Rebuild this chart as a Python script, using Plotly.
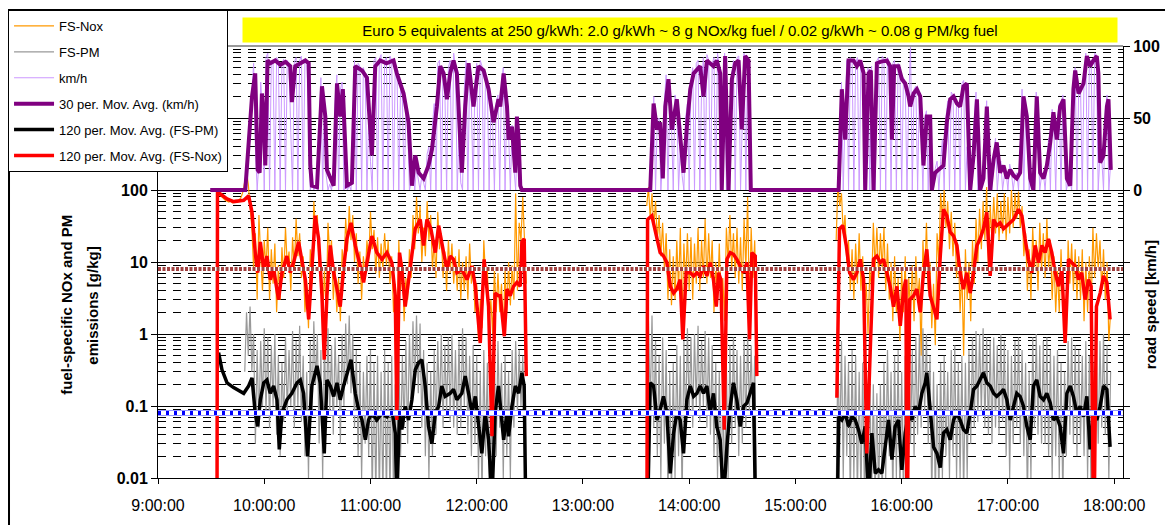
import pandas as pd
import plotly.graph_objects as go

# all times are minutes after 9:00:00
day_start = pd.Timestamp("2010-06-01 09:00:00")

# 30 per. moving average of road speed [km/h]
speed_ma_t = [29.5, 49.3, 53.1, 54.9, 56.3, 57.4, 58.7, 59.7, 60.6, 61.9, 63.4, 66.2, 69.1, 72.0, 74.7,
              75.6, 77.5, 80.0, 83.2, 85.1, 86.0, 86.9, 89.8, 92.6, 94.5, 95.4, 99.2, 101.1, 102.9, 104.4,
              106.7, 109.5, 111.4, 115.2, 118.0, 120.8, 122.7, 125.5, 129.0, 133.0, 134.9, 138.7, 141.5, 143.4, 145.3,
              147.2, 150.0, 152.8, 154.7, 157.5, 159.4, 161.3, 163.2, 165.0, 166.9, 168.8, 171.6, 173.5, 175.4, 178.2,
              181.0, 183.9, 186.7, 189.5, 192.3, 193.3, 195.2, 197.1, 198.0, 199.9, 201.8, 202.7, 203.7, 204.6, 205.5,
              278.0, 279.9, 281.8, 283.6, 285.1, 286.5, 288.3, 290.2, 293.0, 294.9, 296.8, 298.7, 300.6, 302.5, 306.2,
              308.1, 310.0, 313.7, 315.6, 317.5, 318.4, 320.3, 322.2, 324.1, 326.0, 327.9, 329.7, 331.6, 333.5, 334.8,
              384.4, 386.2, 388.1, 390.0, 392.8, 394.7, 396.6, 398.5, 399.4, 401.3, 402.6, 404.1, 406.0, 407.9, 411.6,
              413.5, 414.5, 415.8, 418.2, 420.1, 422.0, 423.9, 424.8, 426.7, 428.6, 430.5, 432.3, 434.2, 436.1, 437.0,
              438.9, 440.8, 443.6, 445.5, 447.4, 449.3, 451.2, 453.0, 454.9, 456.8, 458.7, 460.6, 462.5, 464.3, 466.2,
              468.1, 470.0, 471.9, 473.7, 475.6, 477.5, 479.4, 481.3, 483.2, 485.0, 486.9, 488.8, 490.7, 492.6, 494.4,
              496.3, 498.2, 500.1, 502.0, 503.9, 505.7, 507.6, 509.5, 511.4, 513.3, 515.2, 517.0, 518.0, 519.9, 522.7,
              524.6, 526.4, 528.3, 530.2, 531.1, 532.1, 534.0, 535.9, 536.8, 538.1]
speed_ma = [0, 0, 65, 81, 14, 12, 67, 51, 17, 90, 88, 90, 87, 89, 86,
            61, 86, 88, 90, 88, 17, 3, 2, 72, 51, 14, 3, 74, 51, 70,
            3, 5, 86, 83, 78, 24, 86, 90, 88, 90, 81, 67, 47, 3, 24,
            12, 8, 17, 28, 58, 86, 81, 63, 81, 90, 81, 12, 58, 88, 58,
            86, 83, 70, 47, 63, 58, 81, 58, 35, 44, 12, 51, 35, 3, 0,
            0, 60, 42, 47, 8, 58, 77, 42, 63, 35, 12, 44, 70, 81, 86,
            65, 90, 86, 90, 81, 0, 93, 0, 77, 88, 90, 42, 93, 90, 0,
            0, 70, 35, 90, 90, 86, 90, 81, 0, 81, 83, 0, 88, 89, 90,
            86, 35, 86, 86, 77, 74, 65, 58, 67, 70, 65, 17, 51, 51, 0,
            12, 14, 17, 47, 63, 65, 60, 58, 72, 74, 0, 24, 63, 0, 8,
            58, 0, 21, 33, 12, 17, 8, 14, 10, 8, 12, 65, 51, 8, 0,
            65, 12, 8, 17, 33, 54, 35, 58, 63, 8, 3, 70, 83, 67, 74,
            93, 86, 90, 93, 81, 19, 24, 58, 63, 14]

# raw road speed [km/h], one reading per minute in each driving block
speed_raw_a_start = 49
speed_raw_a = [0, 5, 20, 45, 70, 88, 30, 0, 20, 75,
               55, 0, 92, 95, 0, 90, 88, 0, 92, 90,
               0, 88, 91, 0, 90, 87, 40, 0, 89, 92,
               0, 90, 93, 0, 91, 90, 60, 0, 5, 0,
               3, 0, 40, 78, 0, 60, 10, 0, 4, 0,
               10, 60, 80, 0, 70, 75, 0, 5, 0, 3,
               0, 45, 90, 0, 88, 86, 0, 85, 80, 0,
               50, 20, 0, 90, 92, 0, 91, 94, 0, 90,
               92, 0, 93, 90, 0, 88, 80, 0, 72, 65,
               0, 55, 45, 0, 5, 20, 0, 15, 8, 0,
               10, 5, 0, 25, 30, 0, 45, 60, 0, 88,
               90, 0, 85, 70, 0, 85, 90, 0, 95, 85,
               0, 40, 5, 0, 70, 90, 0, 80, 60, 0,
               75, 88, 0, 90, 86, 0, 80, 72, 0, 55,
               45, 0, 60, 66, 0, 75, 85, 0, 60, 40,
               0, 45, 15, 0, 38, 5, 0]
speed_raw_b_start = 278
speed_raw_b = [0, 40, 65, 0, 48, 50, 0, 20, 62, 80,
               0, 60, 45, 0, 66, 60, 0, 30, 10, 0,
               50, 60, 0, 75, 85, 0, 88, 90, 0, 70,
               92, 0, 94, 90, 0, 88, 92, 0, 95, 85,
               0, 60, 95, 0, 10, 0, 80, 90, 0, 92,
               93, 0, 60, 95, 0, 92, 88, 0]
speed_raw_c_start = 384
speed_raw_c = [0, 30, 75, 0, 50, 90, 0, 92, 90, 0,
               88, 92, 0, 90, 85, 0, 40, 85, 0, 86,
               10, 0, 90, 92, 0, 93, 91, 0, 92, 88,
               0, 88, 90, 0, 88, 85, 0, 78, 75, 0,
               62, 100, 0, 70, 72, 0, 68, 40, 0, 50,
               55, 0, 52, 5, 0, 15, 20, 0, 20, 35,
               0, 50, 62, 0, 68, 66, 0, 62, 60, 0,
               74, 76, 0, 30, 5, 0, 30, 50, 68, 0,
               5, 0, 12, 40, 62, 0, 5, 0, 25, 36,
               0, 15, 20, 0, 10, 12, 0, 18, 12, 0,
               10, 12, 0, 30, 70, 0, 55, 40, 0, 10,
               5, 0, 68, 30, 0, 10, 12, 0, 20, 36,
               0, 56, 40, 0, 50, 60, 0, 66, 30, 0,
               5, 8, 0, 72, 85, 0, 70, 72, 0, 78,
               95, 0, 88, 90, 0, 95, 94, 0, 25, 22,
               0, 55, 66, 0, 18]

# fuel-specific NOx, raw [g/kg]
nox_raw_a_start = 34
nox_raw_a = [90, 85, 80, 75, 72, 70, 68, 70, 66, 70,
             72, 68, 75, 80, 95, 140, 180, 120, 60, 30,
             8, 25, 3, 45, 12, 4, 20, 8, 30, 3,
             15, 5, 18, 2, 9, 3, 16, 6, 30, 9,
             14, 4, 22, 8, 40, 12, 25, 6, 12, 2,
             5, 1.2, 15, 5, 70, 25, 45, 8, 6, 1.5,
             8, 2, 35, 12, 20, 3, 8, 2, 6, 1.5,
             15, 8, 40, 14, 60, 20, 45, 10, 25, 5,
             14, 3, 12, 6, 20, 10, 50, 15, 28, 7,
             22, 6, 18, 8, 25, 9, 20, 5, 12, 2,
             5, 0.8, 20, 4, 10, 1.5, 6, 3, 15, 6,
             45, 15, 80, 25, 60, 10, 30, 12, 70, 20,
             45, 8, 20, 6, 50, 15, 25, 6, 14, 4,
             20, 7, 18, 5, 12, 4, 15, 3, 10, 4,
             12, 3, 18, 5, 9, 2, 5, 0.8, 3, 1.2,
             20, 6, 8, 1.5, 3, 1, 8, 2, 7, 2,
             5, 1, 8, 2, 10, 2.5, 9, 3, 90, 4,
             35, 20, 80, 15, 5]
nox_raw_b_start = 276
nox_raw_b = [60, 110, 40, 90, 30, 70, 20, 45, 12, 35,
             8, 25, 3, 15, 2.5, 12, 3, 20, 4, 30,
             1.5, 18, 5, 25, 4, 22, 3, 18, 5, 30,
             4, 20, 6, 40, 5, 25, 6, 20, 2, 10,
             3, 18, 2.5, 6, 1.5, 30, 10, 45, 8, 25,
             6, 30, 5, 22, 4, 40, 8, 80, 2, 30,
             6, 20, 1]
nox_raw_c_start = 383
nox_raw_c = [20, 120, 60, 90, 25, 45, 10, 20, 4, 15,
             3, 18, 5, 25, 4, 12, 2, 5, 1, 8,
             4, 35, 8, 30, 6, 25, 8, 30, 4, 18,
             3, 10, 1.5, 12, 2, 6, 0.8, 8, 2, 12,
             0.6, 6, 2, 9, 1.5, 12, 3, 6, 0.5, 20,
             6, 35, 4, 10, 1.2, 5, 0.7, 25, 10, 90,
             40, 100, 30, 70, 15, 50, 12, 35, 6, 15,
             2, 8, 0.5, 15, 3, 10, 1.5, 20, 5, 40,
             10, 55, 15, 70, 20, 110, 8, 60, 20, 80,
             25, 90, 20, 70, 25, 90, 20, 80, 25, 100,
             30, 90, 40, 95, 30, 60, 12, 25, 4, 15,
             3, 30, 8, 20, 4, 35, 8, 25, 6, 40,
             8, 20, 3, 12, 2, 8, 2, 15, 3, 1.2,
             0.8, 20, 5, 18, 4, 15, 3, 12, 3, 15,
             1.5, 10, 2, 12, 2, 30, 6, 25, 8, 20,
             4, 15, 3, 10, 0.8, 2]

# fuel-specific PM, raw [g/kg]
pm_raw_a_start = 49
pm_raw_a = [0.3, 2.0, 0.5, 2.4, 0.3, 1.0, 0.03, 0.6, 0.05, 0.8,
            0.1, 1.2, 0.08, 0.9, 0.05, 0.7, 0.1, 1.0, 0.04, 0.5,
            0.02, 0.4, 0.06, 0.9, 0.08, 0.6, 0.1, 1.1, 0.05, 0.8,
            0.1, 1.3, 0.06, 0.5, 0.02, 0.3, 0.01, 0.8, 0.08, 1.5,
            0.2, 1.0, 0.03, 0.6, 0.01, 0.9, 0.05, 1.2, 0.08, 0.7,
            0.04, 0.9, 0.1, 0.5, 0.03, 1.0, 0.1, 1.4, 0.2, 1.8,
            0.15, 1.0, 0.05, 0.6, 0.02, 0.4, 0.01, 0.3, 0.03, 0.5,
            0.02, 0.6, 0.005, 0.4, 0.005, 0.5, 0.005, 0.3, 0.005, 0.6,
            0.005, 0.4, 0.005, 0.5, 0.005, 0.2, 0.005, 0.6, 0.02, 0.5,
            0.05, 0.8, 0.03, 1.0, 0.1, 1.5, 0.2, 1.8, 0.15, 1.4,
            0.05, 0.6, 0.02, 0.4, 0.01, 0.3, 0.02, 0.6, 0.04, 0.8,
            0.08, 1.0, 0.05, 0.7, 0.08, 0.9, 0.06, 1.0, 0.05, 0.6,
            0.04, 0.8, 0.05, 1.2, 0.1, 0.9, 0.04, 0.5, 0.02, 0.7,
            0.03, 0.5, 0.01, 0.3, 0.005, 0.6, 0.02, 0.4, 0.005, 0.2,
            0.005, 0.5, 0.02, 0.8, 0.05, 0.4, 0.01, 0.5, 0.02, 0.3,
            0.01, 0.6, 0.05, 0.8, 0.08, 0.6, 0.1, 0.5, 0.05, 0.005]
pm_raw_b_start = 276
pm_raw_b = [0.005, 1.5, 0.1, 1.8, 0.05, 0.8, 0.02, 0.5, 0.01, 0.9,
            0.03, 0.6, 0.005, 0.3, 0.005, 0.4, 0.01, 0.7, 0.02, 0.5,
            0.005, 0.8, 0.05, 1.2, 0.08, 0.9, 0.05, 1.0, 0.1, 1.3,
            0.06, 0.8, 0.1, 1.1, 0.05, 0.9, 0.04, 0.7, 0.02, 0.4,
            0.01, 0.3, 0.005, 0.2, 0.005, 0.4, 0.01, 0.7, 0.03, 0.9,
            0.05, 0.6, 0.02, 0.5, 0.03, 0.8, 0.05, 1.0, 0.08, 0.7,
            0.05, 0.5, 0.005]
pm_raw_c_start = 383
pm_raw_c = [0.005, 0.6, 0.02, 0.8, 0.01, 0.5, 0.02, 0.4, 0.005, 0.6,
            0.01, 0.5, 0.005, 0.3, 0.005, 0.4, 0.005, 0.2, 0.005, 0.3,
            0.005, 0.2, 0.005, 0.15, 0.005, 0.2, 0.005, 0.4, 0.01, 0.6,
            0.02, 0.3, 0.005, 0.5, 0.01, 0.6, 0.005, 0.3, 0.005, 0.5,
            0.02, 0.8, 0.03, 0.6, 0.02, 0.9, 0.04, 1.0, 0.05, 1.2,
            0.08, 1.0, 0.03, 0.5, 0.005, 0.3, 0.005, 0.2, 0.005, 0.4,
            0.01, 0.5, 0.02, 0.3, 0.01, 0.6, 0.02, 0.7, 0.01, 0.4,
            0.01, 0.5, 0.005, 0.4, 0.01, 0.6, 0.03, 0.9, 0.05, 1.1,
            0.06, 1.0, 0.08, 1.2, 0.05, 0.9, 0.04, 0.8, 0.03, 0.9,
            0.05, 0.7, 0.04, 1.0, 0.06, 0.8, 0.02, 0.6, 0.01, 0.5,
            0.03, 0.8, 0.05, 0.9, 0.03, 0.6, 0.02, 0.4, 0.005, 0.3,
            0.01, 0.9, 0.05, 1.0, 0.04, 0.7, 0.03, 0.8, 0.03, 0.9,
            0.02, 0.6, 0.01, 0.5, 0.02, 0.6, 0.01, 0.4, 0.005, 0.3,
            0.02, 0.8, 0.04, 0.9, 0.03, 0.7, 0.02, 0.6, 0.03, 0.5,
            0.02, 0.8, 0.01, 0.5, 0.005, 0.4, 0.02, 0.6, 0.03, 0.8,
            0.05, 1.0, 0.04, 0.7, 0.01, 0.3]

# 120 per. moving average of FS-NOx (None = engine off, line break)
nox_ma_t = [33.3, 33.6, 35.2, 39.0, 42.7, 48.4, 51.2, 53.1, 54.9, 56.3, 57.8, 59.7, 61.5, 63.4, 65.3,
            68.1, 70.0, 72.8, 74.7, 76.6, 79.4, 81.3, 83.2, 85.1, 86.9, 88.8, 90.7, 92.6, 93.9, 95.4,
            97.3, 99.2, 101.1, 102.9, 104.8, 106.7, 109.0, 111.4, 114.2, 116.1, 118.0, 120.8, 123.6, 126.5, 129.3,
            132.1, 134.0, 134.9, 136.4, 137.7, 139.6, 141.5, 143.4, 145.3, 148.1, 150.0, 151.9, 154.1, 156.6, 158.5,
            161.3, 163.2, 165.0, 166.9, 168.8, 171.6, 174.5, 177.3, 179.2, 182.0, 184.2, 186.7, 188.6, 190.4, 192.3,
            193.3, 195.6, 197.1, 198.9, 200.8, 202.7, 204.6, 205.5, 206.8, 208.0, None,
            276.1, 276.5, 278.9, 281.8, 283.6, 285.5, 287.4, 289.3, 291.2, 293.0, 294.9, 296.4, 298.3, 300.6, 302.5,
            304.4, 306.2, 308.1, 310.0, 311.9, 313.7, 315.3, 316.6, 317.9, 319.8, 321.3, 323.2, 325.0, 326.9, 328.8,
            330.7, 332.6, 334.1, 335.4, 337.3, 338.2, None,
            383.4, 384.9, 386.8, 388.7, 390.6, 392.8, 394.7, 396.6, 398.5, 400.3, 402.2, 404.1, 406.0, 407.9, 409.8,
            411.6, 413.5, 415.4, 417.3, 419.2, 421.1, 422.4, 423.0, 424.5, 426.7, 428.6, 430.5, 432.3, 434.2, 436.1,
            438.0, 439.9, 441.8, 443.6, 445.5, 447.4, 449.3, 451.2, 453.0, 454.9, 456.8, 458.7, 460.6, 462.5, 464.3,
            466.2, 468.1, 470.0, 471.9, 473.7, 475.6, 477.5, 479.4, 481.3, 483.2, 486.0, 487.9, 489.7, 491.6, 493.5,
            495.4, 497.3, 499.2, 501.0, 502.9, 504.8, 506.7, 508.6, 510.5, 512.3, 514.2, 516.1, 518.0, 519.9, 521.7,
            523.6, 525.5, 527.0, 528.5, 530.0, 532.1, 534.0, 535.9, 537.7]
nox_ma = [0.001, 93, 88, 75, 69, 72, 83, 49, 13.5, 7.1, 19, 7.9, 12.1, 5.7, 7.9,
          3.0, 7.1, 12.1, 7.1, 9.8, 19, 10.9, 5.7, 1.6, 7.9, 44, 21, 3.4, 0.44, 3.4,
          17, 7.1, 4.2, 2.4, 7.9, 21, 35, 17, 8.8, 5.2, 9.8, 23, 13.5, 10.9, 13.5,
          9.8, 3.4, 0.064, 13.5, 7.9, 2.4, 5.7, 10.9, 29, 39, 17, 39, 29, 13.5, 32,
          13.5, 7.9, 12.1, 10.9, 7.1, 7.9, 5.7, 8.8, 4.6, 0.75, 10.9, 2.4, 0.038, 3.7, 3.4,
          3.4, 0.93, 4.2, 3.4, 4.6, 5.2, 4.6, 19, 21, 0.26, None,
          0.001, 39, 44, 21, 13.5, 12.1, 9.8, 4.6, 3.7, 4.2, 5.7, 0.84, 7.1, 7.1, 6.4,
          7.1, 6.4, 8.8, 6.4, 9.8, 5.7, 2.4, 7.1, 5.7, 0.047, 10.9, 13.5, 12.8, 10.9, 8.8,
          7.1, 9.8, 0.84, 13.5, 12.1, 0.26, None,
          0.13, 29, 32, 17, 7.1, 5.7, 7.1, 10.9, 5.7, 0.022, 0.55, 10.9, 12.1, 9.8, 10.9,
          7.1, 4.6, 2.4, 4.6, 1.3, 4.2, 5.7, 0.001, 3.0, 3.4, 4.2, 2.0, 7.1, 15, 3.4,
          2.4, 1.6, 12.1, 54, 44, 26, 23, 17, 7.1, 4.2, 7.1, 3.7, 7.1, 17, 21,
          29, 49, 6.4, 39, 32, 35, 29, 32, 35, 39, 54, 44, 21, 10.9, 7.1,
          17, 9.8, 17, 13.5, 21, 13.5, 7.1, 4.6, 7.9, 0.75, 10.9, 9.8, 8.8, 5.7, 7.1,
          3.0, 5.7, 4.6, 0.001, 2.4, 3.7, 6.4, 5.2, 1.6]

# 120 per. moving average of FS-PM
pm_ma_t = [34.2, 36.1, 39.0, 42.7, 48.4, 51.2, 53.1, 54.9, 56.3, 57.8, 59.7, 61.5, 63.4, 65.3, 67.2,
           68.5, 70.0, 72.8, 75.6, 78.5, 80.4, 82.2, 84.5, 86.9, 89.8, 91.6, 93.9, 95.4, 97.3, 99.2,
           101.1, 102.9, 104.8, 106.7, 109.0, 111.4, 113.3, 115.2, 117.1, 118.9, 120.8, 123.6, 126.5, 129.3, 132.1,
           134.0, 134.9, 136.4, 137.7, 139.6, 141.5, 143.4, 145.3, 147.2, 149.0, 150.9, 152.8, 154.7, 156.6, 158.5,
           160.3, 162.2, 165.0, 166.9, 168.8, 171.6, 173.5, 175.4, 177.3, 179.2, 181.0, 182.9, 184.8, 186.7, 188.6,
           190.4, 192.3, 195.2, 197.1, 198.0, 199.9, 201.8, 203.7, 205.5, 206.8, 208.0, None,
           276.1, 278.0, 279.9, 281.8, 283.6, 285.5, 287.4, 289.3, 291.2, 293.0, 294.9, 296.8, 298.7, 300.6, 302.5,
           304.4, 306.2, 308.1, 310.0, 311.9, 313.7, 315.6, 317.5, 319.4, 321.3, 323.2, 325.0, 326.9, 328.8, 330.7,
           332.6, 334.5, 336.3, 337.8, None,
           383.4, 384.4, 386.2, 388.1, 390.0, 391.9, 393.8, 395.6, 397.5, 399.4, 401.3, 403.2, 405.1, 406.9, 408.8,
           410.7, 412.6, 414.5, 416.3, 418.2, 420.1, 422.0, 423.9, 425.8, 427.6, 429.5, 431.4, 433.3, 434.2, 436.1,
           438.0, 439.9, 441.8, 443.6, 445.5, 447.4, 449.3, 451.2, 453.0, 454.9, 456.8, 458.7, 460.6, 462.5, 464.3,
           466.2, 468.1, 470.0, 471.9, 473.7, 475.6, 477.5, 479.4, 481.3, 483.2, 485.0, 486.9, 488.8, 490.7, 492.6,
           494.4, 496.3, 498.2, 500.1, 502.0, 503.9, 505.7, 507.6, 509.5, 511.4, 513.3, 515.2, 517.0, 518.9, 520.8,
           522.7, 524.6, 526.4, 528.3, 530.2, 532.1, 534.0, 535.9, 537.7]
pm_ma = [0.55, 0.32, 0.21, 0.18, 0.15, 0.19, 0.245, 0.08, 0.052, 0.122, 0.21, 0.23, 0.15, 0.19, 0.122,
         0.025, 0.08, 0.122, 0.15, 0.21, 0.23, 0.15, 0.02, 0.19, 0.36, 0.21, 0.022, 0.23, 0.19, 0.136,
         0.21, 0.122, 0.19, 0.29, 0.44, 0.15, 0.089, 0.064, 0.034, 0.064, 0.08, 0.064, 0.08, 0.071, 0.089,
         0.042, 0.005, 0.08, 0.047, 0.099, 0.064, 0.122, 0.32, 0.40, 0.44, 0.19, 0.052, 0.03, 0.08, 0.099,
         0.19, 0.136, 0.15, 0.17, 0.122, 0.15, 0.26, 0.15, 0.08, 0.136, 0.058, 0.022, 0.08, 0.034, 0.005,
         0.08, 0.19, 0.034, 0.08, 0.038, 0.099, 0.19, 0.15, 0.29, 0.19, 0.001, None,
         0.001, 0.21, 0.19, 0.064, 0.089, 0.136, 0.08, 0.0116, 0.042, 0.08, 0.064, 0.022, 0.122, 0.19, 0.136,
         0.15, 0.19, 0.15, 0.19, 0.08, 0.15, 0.052, 0.034, 0.005, 0.027, 0.099, 0.21, 0.122, 0.052, 0.099,
         0.11, 0.15, 0.21, 0.001, None,
         0.001, 0.071, 0.064, 0.08, 0.052, 0.071, 0.064, 0.047, 0.03, 0.052, 0.005, 0.042, 0.0116, 0.013, 0.0116,
         0.027, 0.064, 0.018, 0.052, 0.064, 0.013, 0.042, 0.08, 0.064, 0.099, 0.08, 0.15, 0.21, 0.29, 0.089,
         0.027, 0.022, 0.014, 0.042, 0.047, 0.034, 0.064, 0.08, 0.064, 0.047, 0.042, 0.08, 0.17, 0.19, 0.23,
         0.29, 0.21, 0.19, 0.15, 0.136, 0.15, 0.17, 0.122, 0.064, 0.099, 0.15, 0.136, 0.099, 0.052, 0.034,
         0.19, 0.23, 0.136, 0.122, 0.15, 0.11, 0.064, 0.071, 0.052, 0.022, 0.15, 0.19, 0.136, 0.08, 0.099,
         0.071, 0.136, 0.025, 0.08, 0.064, 0.099, 0.19, 0.17, 0.027]

# Euro 5 equivalents [g/kg fuel]
euro5_nox = 8
euro5_pm = 0.08

font_family = "Arial, Liberation Sans, sans-serif"


def to_time(minutes):
    return [None if m is None else day_start + pd.Timedelta(minutes=m) for m in minutes]


def blocks(*parts):
    # parts: (start minute, values) for each driving block, joined with line breaks
    ts, vs = [], []
    for start, vals in parts:
        if ts:
            ts.append(None)
            vs.append(None)
        ts += [start + i for i in range(len(vals))]
        vs += vals
    return to_time(ts), vs


nox_x, nox_y = blocks((nox_raw_a_start, nox_raw_a), (nox_raw_b_start, nox_raw_b), (nox_raw_c_start, nox_raw_c))
pm_x, pm_y = blocks((pm_raw_a_start, pm_raw_a), (pm_raw_b_start, pm_raw_b), (pm_raw_c_start, pm_raw_c))
spd_x, spd_y = blocks((speed_raw_a_start, speed_raw_a), (speed_raw_b_start, speed_raw_b),
                      (speed_raw_c_start, speed_raw_c))

x_start = day_start
x_end = day_start + pd.Timedelta(minutes=545)

fig = go.Figure()

fig.add_trace(go.Scatter(x=nox_x, y=nox_y, mode='lines', name='FS-Nox', legendrank=1, legendgroup='a',
                         line=dict(color='#FF9900', width=1.2)))
fig.add_trace(go.Scatter(x=pm_x, y=pm_y, mode='lines', name='FS-PM', legendrank=2, legendgroup='b',
                         line=dict(color='#999999', width=1.2)))
fig.add_trace(go.Scatter(x=to_time(pm_ma_t), y=pm_ma, mode='lines', name='120 per. Mov. Avg. (FS-PM)',
                         legendrank=5, legendgroup='e', line=dict(color='#000000', width=3.5)))
fig.add_trace(go.Scatter(x=to_time(nox_ma_t), y=nox_ma, mode='lines', name='120 per. Mov. Avg. (FS-Nox)',
                         legendrank=6, legendgroup='f', line=dict(color='#FF0000', width=3.5)))

# Euro 5 reference lines
fig.add_trace(go.Scatter(x=[x_start, x_end], y=[euro5_nox, euro5_nox], mode='lines', showlegend=False,
                         line=dict(color='#FFFFFF', width=4), hoverinfo='skip'))
fig.add_trace(go.Scatter(x=[x_start, x_end], y=[euro5_nox, euro5_nox], mode='lines', showlegend=False,
                         line=dict(color='#A0403F', width=4, dash='3px,1.5px'), hoverinfo='skip'))
fig.add_trace(go.Scatter(x=[x_start, x_end], y=[euro5_pm, euro5_pm], mode='lines', showlegend=False,
                         line=dict(color='#9999FF', width=6), hoverinfo='skip'))
fig.add_trace(go.Scatter(x=[x_start, x_end], y=[euro5_pm, euro5_pm], mode='lines', showlegend=False,
                         line=dict(color='#FFFFFF', width=4), hoverinfo='skip'))
fig.add_trace(go.Scatter(x=[x_start, x_end], y=[euro5_pm, euro5_pm], mode='lines', showlegend=False,
                         line=dict(color='#0000FF', width=4, dash='3px,5px'), hoverinfo='skip'))

fig.add_trace(go.Scatter(x=spd_x, y=spd_y, mode='lines', name='km/h', legendrank=3, legendgroup='c',
                         yaxis='y2', line=dict(color='#CC99FF', width=1)))
fig.add_trace(go.Scatter(x=to_time(speed_ma_t), y=speed_ma, mode='lines', name='30 per. Mov. Avg. (km/h)',
                         legendrank=4, legendgroup='d', yaxis='y2', line=dict(color='#800080', width=4)))

minor_vals = [m * 10 ** e for e in range(-2, 4) for m in range(2, 10)]

# the page body has an 8 px margin, so the figure is a bit smaller than the window
fig.update_layout(
    width=1165, height=517, autosize=False,
    margin=dict(l=150, r=50, t=38, b=47, autoexpand=False),
    paper_bgcolor='white', plot_bgcolor='white',
    font=dict(family=font_family, color='black'),
    xaxis=dict(
        type='date', range=[x_start, x_end],
        tickvals=[day_start + pd.Timedelta(hours=h) for h in range(10)],
        tickformat='%-H:%M:%S', tickfont=dict(size=16), ticklabelstandoff=8,
        showgrid=False, zeroline=False,
        showline=True, linecolor='black', linewidth=1,
        ticks='outside', ticklen=5, tickcolor='black',
    ),
    yaxis=dict(
        type='log', range=[-2, 4],
        tickvals=[0.01, 0.1, 1, 10, 100, 1000, 10000],
        ticktext=['0.01', '0.1', '1', '10', '100', '', ''],
        tickfont=dict(size=16, weight='bold'),
        showgrid=True, gridcolor='black', gridwidth=1,
        minor=dict(tickvals=minor_vals, showgrid=True, gridcolor='black', gridwidth=1,
                   griddash='8px,7px', ticks=''),
        showline=True, linecolor='black', linewidth=1,
        ticks='outside', ticklen=6, tickcolor='black', zeroline=False,
    ),
    yaxis2=dict(
        overlaying='y', side='right', range=[-200, 100],
        tickvals=[-200, -150, -100, -50, 0, 50, 100],
        ticktext=['', '', '', '', '0', '50', '100'],
        tickfont=dict(size=16, weight='bold'),
        showgrid=False, zeroline=False,
        showline=True, linecolor='black', linewidth=1,
        ticks='outside', ticklen=6, tickcolor='black',
    ),
    legend=dict(
        x=-0.1554, y=1.0833, xanchor='left', yanchor='top',
        bgcolor='white', bordercolor='black', borderwidth=1,
        font=dict(size=13, family=font_family), tracegroupgap=6,
        itemwidth=40,
    ),
    showlegend=True,
)

fig.add_annotation(
    x=0.541, y=1.037, xref='paper', yref='paper', xanchor='center', yanchor='middle',
    text='Euro 5 equivalents at 250 g/kWh: 2.0 g/kWh ~ 8 g NOx/kg fuel / 0.02 g/kWh ~ 0.08 g PM/kg fuel',
    showarrow=False, bgcolor='#FFFF00', width=872, height=22,
    font=dict(size=15, family=font_family, color='black'),
)
fig.add_annotation(
    x=-0.0948, y=0.40, xref='paper', yref='paper', xanchor='center', yanchor='middle',
    text='fuel-specific NOx and PM', textangle=-90, showarrow=False,
    font=dict(size=15, family=font_family, weight='bold'),
)
fig.add_annotation(
    x=-0.0679, y=0.40, xref='paper', yref='paper', xanchor='center', yanchor='middle',
    text='emissions [g/kg]', textangle=-90, showarrow=False,
    font=dict(size=15, family=font_family, weight='bold'),
)
fig.add_annotation(
    x=1.028, y=0.40, xref='paper', yref='paper', xanchor='center', yanchor='middle',
    text='road speed [km/h]', textangle=-90, showarrow=False,
    font=dict(size=15, family=font_family, weight='bold'),
)

# plot area top edge and outer chart frame
fig.add_shape(type='line', xref='paper', yref='paper', x0=0, x1=1, y0=1, y1=1,
              line=dict(color='#999999', width=2))
fig.add_shape(type='rect', xref='paper', yref='paper', x0=-0.1544, x1=1.06, y0=-0.2, y1=1.0833,
              line=dict(color='black', width=2), fillcolor='rgba(0,0,0,0)')

fig.write_html("out.html")
